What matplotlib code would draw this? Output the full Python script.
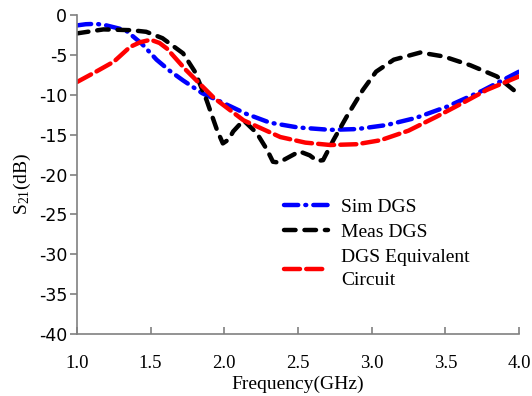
import matplotlib
matplotlib.use("Agg")
import matplotlib.pyplot as plt

# Data
sim_f = [1.0, 1.06, 1.13, 1.2, 1.33, 1.44, 1.54, 1.63, 1.72, 1.85, 1.99, 2.15, 2.31, 2.5, 2.72, 2.9, 3.10, 3.30, 3.51, 3.75, 4.0]
sim_v = [-1.3, -1.15, -1.1, -1.3, -1.9, -3.6, -5.6, -7.0, -8.2, -9.8, -11.0, -12.4, -13.5, -14.1, -14.4, -14.3, -13.8, -12.9, -11.5, -9.5, -7.1]

meas_f = [1.0, 1.18, 1.37, 1.47, 1.58, 1.72, 1.80, 1.88, 1.95, 1.99, 2.03, 2.06, 2.13, 2.22, 2.29, 2.33, 2.37, 2.42, 2.51, 2.58, 2.63, 2.67, 2.74, 2.83, 2.94, 3.03, 3.15, 3.33, 3.49, 3.67, 3.85, 3.99]
meas_v = [-2.3, -1.8, -1.9, -2.1, -2.9, -4.8, -7.1, -10.7, -14.4, -16.1, -15.6, -14.6, -13.2, -14.8, -16.9, -18.4, -18.5, -18.0, -17.1, -17.6, -18.3, -18.2, -15.7, -12.75, -9.4, -7.1, -5.6, -4.7, -5.2, -6.3, -7.7, -9.8]

dgs_f = [1.0, 1.12, 1.25, 1.36, 1.43, 1.50, 1.56, 1.61, 1.74, 1.93, 2.13, 2.38, 2.55, 2.72, 2.9, 3.06, 3.25, 3.44, 3.62, 3.78, 4.0]
dgs_v = [-8.4, -7.2, -5.85, -4.0, -3.4, -3.1, -3.5, -4.2, -6.9, -10.4, -13.2, -15.3, -16.0, -16.3, -16.2, -15.7, -14.5, -12.75, -11.0, -9.4, -7.7]

labels = ["Sim DGS", "Meas DGS", "DGS Equivalent\nCircuit"]
xticks = [1.0, 1.5, 2.0, 2.5, 3.0, 3.5, 4.0]
yticks = [0, -5, -10, -15, -20, -25, -30, -35, -40]

plt.rcParams['mathtext.fontset'] = 'stix'
plt.rcParams['mathtext.default'] = 'regular'

fig = plt.figure(figsize=(5.32, 3.96), dpi=100)
ax = fig.add_axes([0.1447, 0.1566, 0.8309, 0.8054])

lw = 3.2
l1, = ax.plot(sim_f, sim_v, color='#0000ff', lw=lw, dashes=(3.2, 1.6, 0.2, 1.6), dash_capstyle='round')
l2, = ax.plot(meas_f, meas_v, color='black', lw=lw, dashes=(2.6, 2.0), dash_capstyle='round')
l3, = ax.plot(dgs_f, dgs_v, color='#ff0000', lw=lw, dashes=(3.6, 1.4), dash_capstyle='round')

ax.set_xlim(1.0, 4.0)
ax.set_ylim(-40, 0)
ax.set_xticks(xticks)
ax.set_xticklabels([f"{t:.1f}" for t in xticks], family='Liberation Serif', fontsize=13.5)
ax.set_yticks(yticks)
ax.set_yticklabels([str(t) for t in yticks], family='DejaVu Sans', fontsize=12.5)

for s in ['top', 'right']:
    ax.spines[s].set_visible(False)
for s in ['left', 'bottom']:
    ax.spines[s].set_color('#808080')
    ax.spines[s].set_linewidth(1.2)
ax.tick_params(axis='y', direction='out', length=5, color='#808080', width=1.2, pad=2)
ax.tick_params(axis='x', direction='in', length=5, color='#808080', width=1.2, pad=15)

ax.set_xlabel('Frequency(GHz)', family='Liberation Serif', fontsize=14, labelpad=3)
ax.set_ylabel(r'S$_{21}$(dB)', family='Liberation Serif', fontsize=14, labelpad=2)
ax.yaxis.set_label_coords(-0.10, 0.47)

leg = ax.legend([l1, l2, l3], labels, loc='upper left', bbox_to_anchor=(0.45, 0.45),
                frameon=False, prop={'family': 'Liberation Serif', 'size': 14},
                handlelength=2.3, handletextpad=0.65, labelspacing=0.4, borderaxespad=0)
leg.get_texts()[2].set_linespacing(1.45)

fig.savefig('out.png', dpi=100)
